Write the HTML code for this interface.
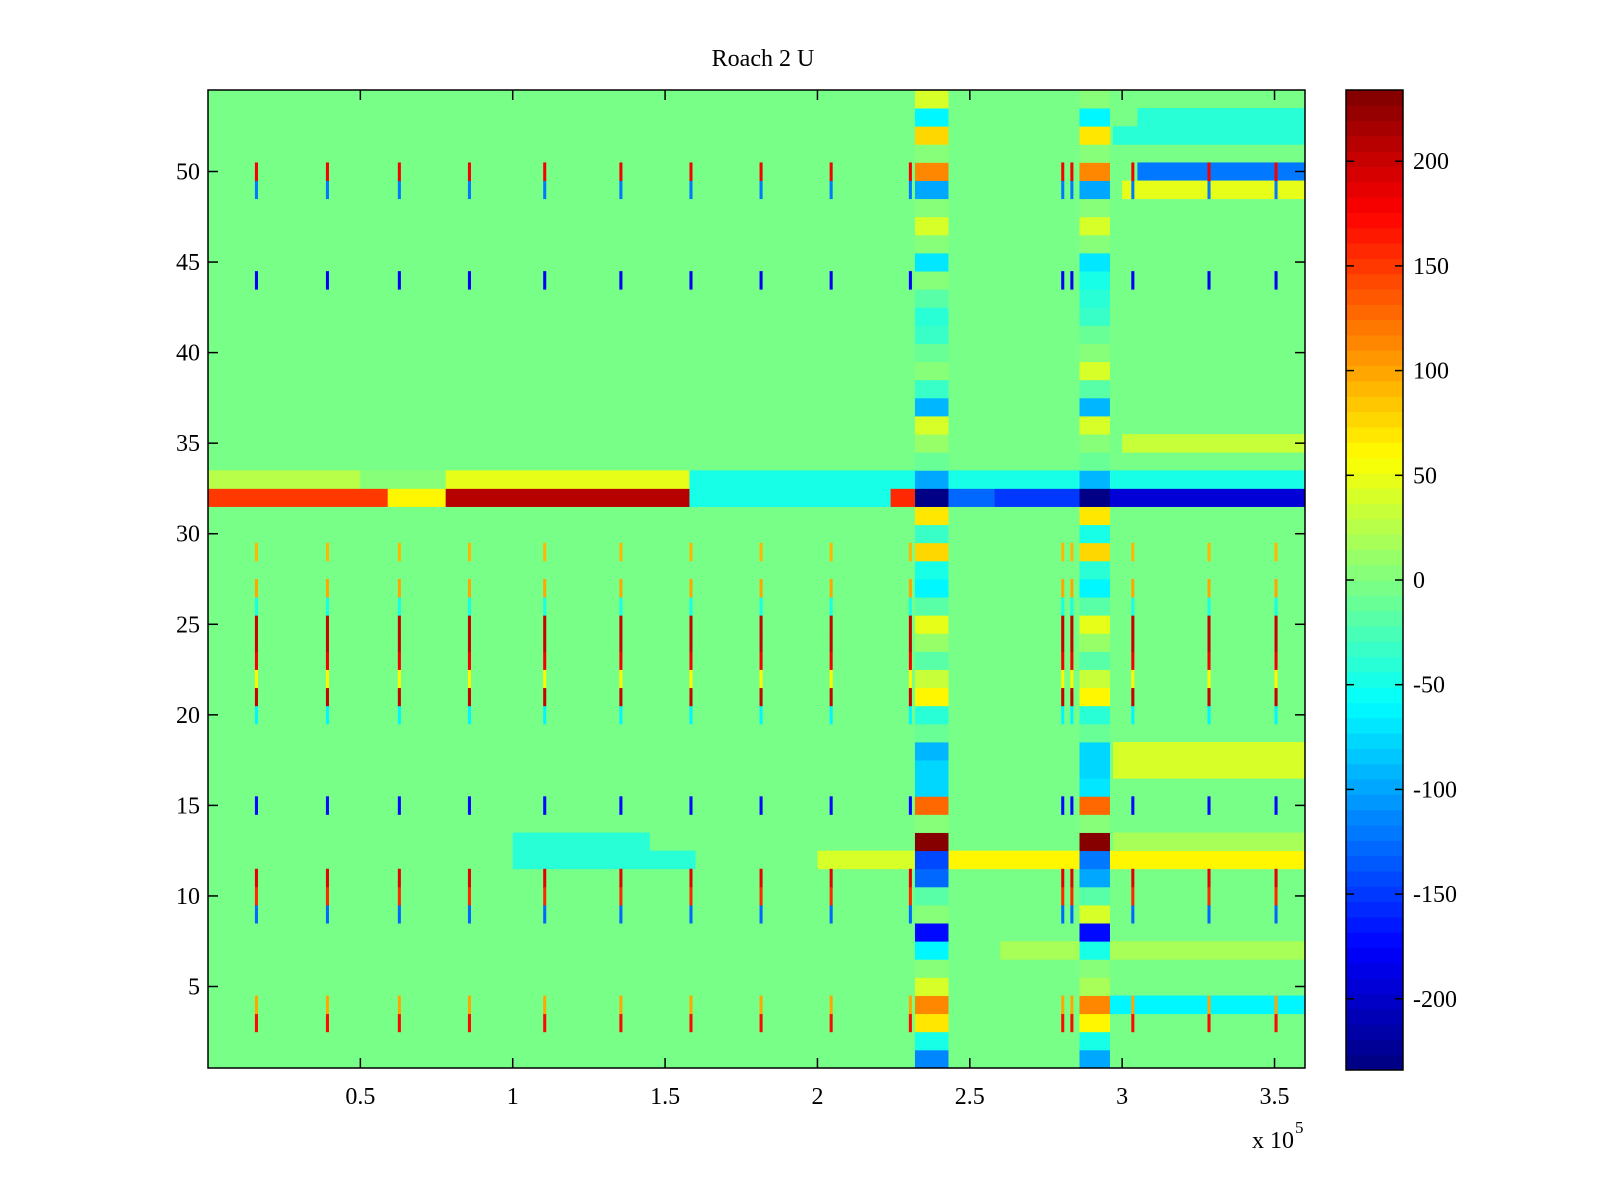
<!DOCTYPE html>
<html><head><meta charset="utf-8">
<style>
body{margin:0;background:#fff;}
svg{display:block;font-family:"Liberation Serif",serif;}
text{fill:#000;font-size:24px;}
</style></head>
<body>
<svg id="fig" width="1600" height="1200" viewBox="0 0 1600 1200">
<rect x="0" y="0" width="1600" height="1200" fill="#fff"/>
<text x="763" y="66" text-anchor="middle">Roach 2 U</text>
<g id="heat"></g>
<g id="axes"></g>
<g id="cbar"></g>
</svg>
<script>
// ---- data ----
const rowBg = [-5,-5,-5,-5,-5,-5,-5,-5,-5,-5,-5,-5,-5,-5,-5,-5,-5,-5,-5,-5,-5,-5,-5,-5,-5,-5,-5,-5,-5,-5,-5,-5,-5,-5,-5,-5,-5,-5,-5,-5,-5,-5,-5,-5,-5,-5,-5,-5,-5,-5,-5,-5,-5,-5];
const patchRow = [32,32,32,32,32,32,32,32,33,33,33,33,12,12,13,12,53,52,50,49,35,18,17,13,7,4];
const patchX0 = [0,0.59,0.78,1.58,2.24,2.43,2.58,2.96,0,0.5,0.78,1.58,1.0,2.0,1.0,2.43,3.05,2.97,3.05,3.0,3.0,2.97,2.97,2.97,2.6,2.95];
const patchX1 = [0.59,0.78,1.58,2.24,2.32,2.58,2.86,3.6,0.5,0.78,1.58,3.6,1.6,2.32,1.45,3.6,3.6,3.6,3.6,3.6,3.6,3.6,3.6,3.6,3.6,3.6];
const patchVal = [150,60,210,-50,160,-130,-150,-195,25,0,45,-45,-40,40,-40,60,-40,-40,-120,50,30,40,40,20,20,-60];
const bandStart = [2.32,2.86];
const bandEnd = [2.43,2.96];
const bandA = [-110,-50,70,110,40,0,-60,-170,0,-20,-130,-140,230,0,130,-80,-80,-90,-10,-40,60,30,-20,10,50,-20,-60,-50,80,-30,70,-230,-100,-10,10,40,-90,-30,0,-10,-30,-40,-20,0,-70,0,40,0,-100,110,0,80,-60,40];
const bandB = [-100,-50,60,110,20,0,-50,-170,40,-20,-100,-120,230,0,130,-70,-80,-80,-10,-40,60,30,-20,10,50,-20,-60,-40,80,-50,70,-230,-90,-10,0,40,-90,-20,40,0,-10,-30,-40,-50,-70,0,40,0,-100,110,0,70,-60,0];
const spikeX = [0.154,0.387,0.623,0.853,1.10,1.35,1.58,1.81,2.04,2.30,2.80,2.83,3.03,3.28,3.50];
const spikeVal = [0,0,170,100,0,0,0,0,-130,160,190,0,0,0,-170,0,0,0,0,-60,200,60,180,200,200,-50,100,0,90,0,0,0,0,0,0,0,0,0,0,0,0,0,0,-180,0,0,0,0,-120,180,0,0,0,0];
const xTicks = [0.5,1,1.5,2,2.5,3,3.5];
const xTickLabels = ["0.5","1","1.5","2","2.5","3","3.5"];
const yTicks = [5,10,15,20,25,30,35,40,45,50];
const cTicks = [-200,-150,-100,-50,0,50,100,150,200];

// ---- geometry ----
const PL=208,PR=1305,PT=90,PB=1068, XMAX=3.6, YMIN=0.5, YMAX=54.5, CMIN=-234, CMAX=234;
const CL=1346,CR=1403,CT=90,CB=1070;
const NS='http://www.w3.org/2000/svg';
function xS(v){return PL+v/XMAX*(PR-PL);}
function yS(v){return PT+(YMAX-v)/(YMAX-YMIN)*(PB-PT);}
function cS(v){return CB-(v-CMIN)/(CMAX-CMIN)*(CB-CT);}
function clamp(a){return Math.max(0,Math.min(1,a));}
function jet(v){
  let t=(v-CMIN)/(CMAX-CMIN); t=clamp(t);
  let k=Math.min(63,Math.floor(t*64)); t=(k+0.5)/64;
  const r=clamp(1.5-Math.abs(4*t-3)),g=clamp(1.5-Math.abs(4*t-2)),b=clamp(1.5-Math.abs(4*t-1));
  return 'rgb('+Math.round(r*255)+','+Math.round(g*255)+','+Math.round(b*255)+')';
}
function mk(tag,attrs,parent){const e=document.createElementNS(NS,tag);for(const k in attrs)e.setAttribute(k,attrs[k]);parent.appendChild(e);return e;}
const heat=document.getElementById('heat');
function cell(row,x0,x1,val,name){
  const e=mk('rect',{x:xS(x0),y:yS(row+0.5),width:Math.max(1,xS(x1)-xS(x0)),height:yS(row-0.5)-yS(row+0.5)+0.4,fill:jet(val)},heat);
  
  
}
rowBg.forEach((v,i)=>cell(i+1,0,XMAX,v,'row-background'));
patchRow.forEach((r,i)=>cell(r,patchX0[i],patchX1[i],patchVal[i],'heat-patch'));
spikeX.forEach(sx=>{spikeVal.forEach((v,i)=>{if(v!==0)cell(i+1,sx,sx+0.01,v,'heat-spike');});});
bandA.forEach((v,i)=>cell(i+1,bandStart[0],bandEnd[0],v,'band-a-cell'));
bandB.forEach((v,i)=>cell(i+1,bandStart[1],bandEnd[1],v,'band-b-cell'));

// ---- axes ----
const ax=document.getElementById('axes');
let fr=mk('rect',{x:PL,y:PT,width:PR-PL,height:PB-PT,fill:'none',stroke:'#000','stroke-width':1.5},ax);

xTicks.forEach((v,i)=>{
  const x=xS(v);
  mk('line',{x1:x,y1:PB,x2:x,y2:PB-10,stroke:'#000','stroke-width':1.5},ax);
  mk('line',{x1:x,y1:PT,x2:x,y2:PT+10,stroke:'#000','stroke-width':1.5},ax);
  const t=mk('text',{x:x,y:PB+36,'text-anchor':'middle'},ax);t.textContent=xTickLabels[i];
  
  
});
yTicks.forEach(v=>{
  const y=yS(v);
  mk('line',{x1:PL,y1:y,x2:PL+10,y2:y,stroke:'#000','stroke-width':1.5},ax);
  mk('line',{x1:PR,y1:y,x2:PR-10,y2:y,stroke:'#000','stroke-width':1.5},ax);
  const t=mk('text',{x:PL-8,y:y+8,'text-anchor':'end'},ax);t.textContent=String(v);
  
  
});
let ex=mk('text',{x:1294,y:1148,'text-anchor':'end'},ax);ex.textContent='x 10';


let ex2=mk('text',{x:1295,y:1133,style:'font-size:17px'},ax);ex2.textContent='5';



// ---- colorbar ----
const cb=document.getElementById('cbar');
for(let k=0;k<64;k++){
  const v0=CMIN+k*(CMAX-CMIN)/64,v1=CMIN+(k+1)*(CMAX-CMIN)/64;
  const r=mk('rect',{x:CL,y:cS(v1),width:CR-CL,height:cS(v0)-cS(v1)+0.5,fill:jet((v0+v1)/2)},cb);
  
  
}
let cf=mk('rect',{x:CL,y:CT,width:CR-CL,height:CB-CT,fill:'none',stroke:'#000','stroke-width':1.5},cb);

cTicks.forEach(v=>{
  const y=cS(v);
  mk('line',{x1:CL,y1:y,x2:CL+8,y2:y,stroke:'#000','stroke-width':1.5},cb);
  mk('line',{x1:CR,y1:y,x2:CR-8,y2:y,stroke:'#000','stroke-width':1.5},cb);
  const t=mk('text',{x:CR+10,y:y+8},cb);t.textContent=String(v);
  
  
});
</script>
</body></html>
